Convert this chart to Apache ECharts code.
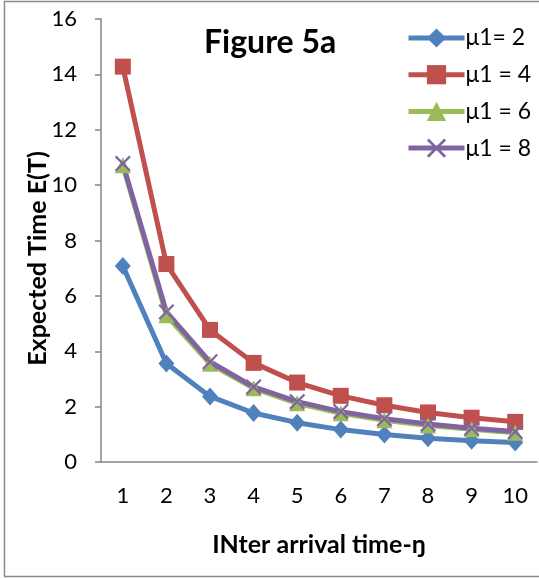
<!DOCTYPE html>
<html>
<head>
<meta charset="utf-8">
<script src="https://cdn.jsdelivr.net/npm/echarts@6/dist/echarts.min.js"></script>
<style>
  html, body { margin: 0; padding: 0; background: #fff; }
  #chart { width: 539px; height: 578px; }
</style>
</head>
<body>
<div id="chart"></div>
<script>
// Inter arrival time categories (η)
const categories = ['1', '2', '3', '4', '5', '6', '7', '8', '9', '10'];

// Expected time E(T) for each service rate μ1
const mu2 = [7.08, 3.56, 2.37, 1.77, 1.42, 1.17, 0.99, 0.86, 0.77, 0.70];
const mu4 = [14.28, 7.15, 4.77, 3.58, 2.87, 2.39, 2.05, 1.79, 1.60, 1.45];
const mu6 = [10.72, 5.30, 3.55, 2.66, 2.12, 1.76, 1.51, 1.32, 1.18, 1.06];
const mu8 = [10.78, 5.42, 3.62, 2.71, 2.18, 1.82, 1.56, 1.37, 1.22, 1.10];

const seriesNames = ['μ1= 2', 'μ1 = 4', 'μ1 = 6', 'μ1 = 8'];
const yTicks = { min: 0, max: 16, interval: 2 };

const FONT = 'Lato, "Open Sans", sans-serif';
const AXIS_GRAY = '#868686';
const CROSS = 'path://M0,1L1,0L5,4L9,0L10,1L6,5L10,9L9,10L5,6L1,10L0,9L4,5Z';

function lineSeries(name, data, color, symbol, size) {
  return {
    name: name,
    type: 'line',
    data: data,
    symbol: symbol,
    symbolSize: size,
    showAllSymbol: true,
    lineStyle: { color: color, width: 5 },
    itemStyle: { color: color },
    emphasis: { disabled: true },
    animation: false
  };
}

const chart = echarts.init(document.getElementById('chart'), null, { renderer: 'canvas' });
chart.setOption({
  backgroundColor: '#ffffff',
  animation: false,
  textStyle: { fontFamily: FONT },
  graphic: [
    {
      type: 'rect',
      shape: { x: 4.5, y: 1.5, width: 560, height: 575 },
      style: { fill: 'none', stroke: '#8a8a8a', lineWidth: 1.5 },
      silent: true
    },
    {
      type: 'text',
      left: 204,
      top: 27,
      style: { text: 'Figure 5a', font: 'bold 32px ' + FONT, fill: '#000' }
    }
  ],
  grid: { left: 101, right: 2, top: 19, bottom: 116, containLabel: false },
  legend: {
    orient: 'vertical',
    left: 401,
    top: 21,
    itemWidth: 56,
    itemHeight: 24,
    itemGap: 12.7,
    data: seriesNames,
    lineStyle: { width: 5 },
    textStyle: { fontFamily: FONT, fontSize: 23, color: '#000', lineHeight: 24, padding: [0, 0, 0, -4] },
    selectedMode: false
  },
  xAxis: {
    type: 'category',
    data: categories,
    boundaryGap: true,
    name: 'INter arrival time-ŋ',
    nameLocation: 'middle',
    nameGap: 70,
    nameMoveOverlap: false,
    nameTextStyle: { fontFamily: FONT, fontSize: 25, fontWeight: 'bold', color: '#000' },
    axisLine: { lineStyle: { color: AXIS_GRAY, width: 1.5 } },
    axisTick: { show: false },
    axisLabel: { fontFamily: FONT, fontSize: 22, color: '#000', margin: 23 },
    splitLine: { show: false }
  },
  yAxis: {
    type: 'value',
    min: yTicks.min,
    max: yTicks.max,
    interval: yTicks.interval,
    name: 'Expected Time E(T)',
    nameLocation: 'middle',
    nameGap: 51,
    nameMoveOverlap: false,
    nameTextStyle: { fontFamily: FONT, fontSize: 25, fontWeight: 'bold', color: '#000', padding: [0, 36, 0, 0] },
    axisLine: { show: true, lineStyle: { color: AXIS_GRAY, width: 1.5 } },
    axisTick: { show: true, inside: false, length: 6, lineStyle: { color: AXIS_GRAY, width: 1.5 } },
    axisLabel: { fontFamily: FONT, fontSize: 22, color: '#000', margin: 24 },
    splitLine: { show: false }
  },
  series: [
    lineSeries(seriesNames[0], mu2, '#4F81BD', 'diamond', [16, 18]),
    lineSeries(seriesNames[1], mu4, '#C0504D', 'rect', 16),
    lineSeries(seriesNames[2], mu6, '#9BBB59', 'triangle', 16),
    lineSeries(seriesNames[3], mu8, '#8064A2', CROSS, 16)
  ]
});
</script>
</body>
</html>
